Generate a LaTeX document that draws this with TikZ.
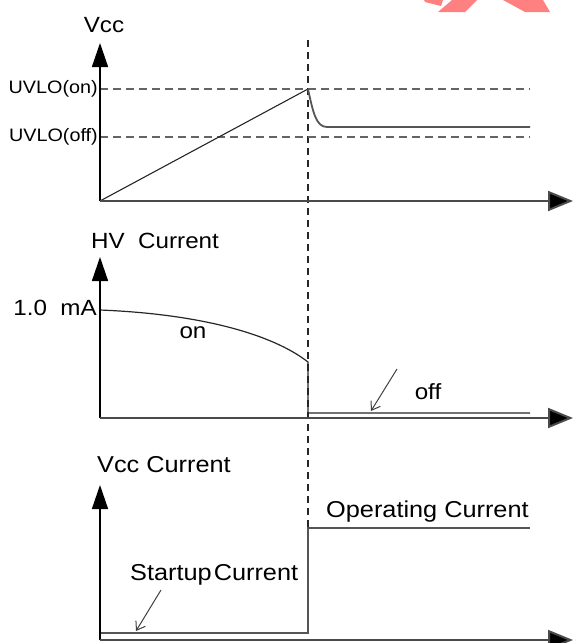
\documentclass[tikz,border=0pt]{standalone}
\usepackage{fontspec}
\setmainfont{Liberation Sans}[FakeStretch=1.1]
\usetikzlibrary{arrows.meta}
\definecolor{axisgray}{HTML}{4A4A4A}
\definecolor{dashgray}{HTML}{646464}
\definecolor{levelgray}{HTML}{555555}
\definecolor{wmred}{HTML}{FF8080}
\tikzset{
  yaxis/.style={draw=black, line width=1.5pt, -{Triangle[length=24pt,width=16pt]}},
  xaxis/.style={draw=axisgray, line width=2pt, -{Triangle[length=25pt,width=20pt,fill=black]}},
  refline/.style={draw=dashgray, line width=1.6pt, dash pattern=on 8pt off 5pt},
  timeline/.style={draw=black!85, line width=1.1pt, dash pattern=on 7pt off 5pt},
  signal/.style={draw=black!85, line width=1.2pt},
  level/.style={draw=levelgray, line width=1.8pt},
  pointer/.style={draw=black!75, line width=1pt, -{Straight Barb[length=8pt,width=11pt]}},
  lbl/.style={inner sep=0pt, font=\fontsize{22}{26}\selectfont},
  biglbl/.style={inner sep=0pt, font=\fontsize{23}{27}\selectfont},
  smalllbl/.style={inner sep=0pt, font=\fontsize{18}{22}\selectfont}
}
\begin{document}
\begin{tikzpicture}[x=1pt,y=-1pt]
\useasboundingbox (0,0) rectangle (574,643);
% watermark fragment
\fill[wmred] (424,0) -- (443,0) -- (441,6) -- (425,2) -- cycle;
\fill[wmred] (452,0) -- (477,0) -- (465,12) -- (438,12) -- cycle;
\fill[wmred] (503,0) -- (543,0) -- (550,12) -- (525,12) -- cycle;

% ---------- coordinates ----------
\coordinate (o1) at (100,201);
\coordinate (y1) at (100,43);
\coordinate (x1) at (573,201);
\coordinate (peak) at (308,89);
\coordinate (von1) at (100,89);
\coordinate (von2) at (530,89);
\coordinate (voff1) at (100,137);
\coordinate (voff2) at (530,137);
\coordinate (vk) at (327,127);
\coordinate (vend) at (530,127);
\coordinate (tTop) at (308,40);
\coordinate (tBot) at (308,528);

\coordinate (o2) at (100,418);
\coordinate (y2) at (100,257);
\coordinate (x2) at (573,418);
\coordinate (h0) at (100,310);
\coordinate (h1) at (308,362);
\coordinate (h2) at (308,413);
\coordinate (h3) at (530,413);
\coordinate (offA) at (397,369);
\coordinate (offB) at (371,411);

\coordinate (o3) at (100,640);
\coordinate (y3) at (100,485);
\coordinate (x3) at (573,640);
\coordinate (c0) at (100,633);
\coordinate (c1) at (308,633);
\coordinate (c2) at (308,528);
\coordinate (c3) at (530,528);
\coordinate (suA) at (161,590);
\coordinate (suB) at (136,631);

% ---------- time marker ----------
\draw[timeline] (tTop) -- (tBot);

% ---------- Vcc panel ----------
\draw[refline] (von1) -- (von2);
\draw[refline] (voff1) -- (voff2);
\draw[signal, line width=1.1pt] (o1) -- (peak);
\draw[level] (peak) .. controls (313,112) and (316,127) .. (vk) -- (vend);
\draw[yaxis] (o1) -- (y1);
\draw[xaxis] (o1) -- (x1);
\node[lbl] (lvcc) at (104,25) {Vcc};
\node[smalllbl, anchor=east] (lon) at (98,89) {UVLO(on)};
\node[smalllbl, anchor=east] (loff) at (98,137) {UVLO(off)};

% ---------- HV current panel ----------
\draw[signal] (h0) .. controls (200,314) and (272,334) .. (h1) -- (h2) -- (h3);
\draw[yaxis] (o2) -- (y2);
\draw[xaxis] (o2) -- (x2);
\node[lbl, anchor=west] (lhv) at (91,241) {HV\ \ Current};
\node[lbl, anchor=east] (lma) at (97,308) {1.0\ \ mA};
\node[lbl] (lonc) at (193,333) {on};
\node[lbl] (loffc) at (428,392) {off};
\draw[pointer] (offA) -- (offB);

% ---------- Vcc current panel ----------
\draw[level, line width=1.5pt] (c0) -- (c1) -- (c2) -- (c3);
\draw[yaxis] (o3) -- (y3);
\draw[xaxis] (o3) -- (x3);
\node[biglbl, anchor=west] (lvc) at (97,465) {Vcc Current};
\node[biglbl, anchor=west] (lop) at (326,512) {Operating Current};
\node[biglbl, anchor=west] (lsu) at (130,575) {Startup\kern2pt Current};
\draw[pointer] (suA) -- (suB);
\end{tikzpicture}
\end{document}
